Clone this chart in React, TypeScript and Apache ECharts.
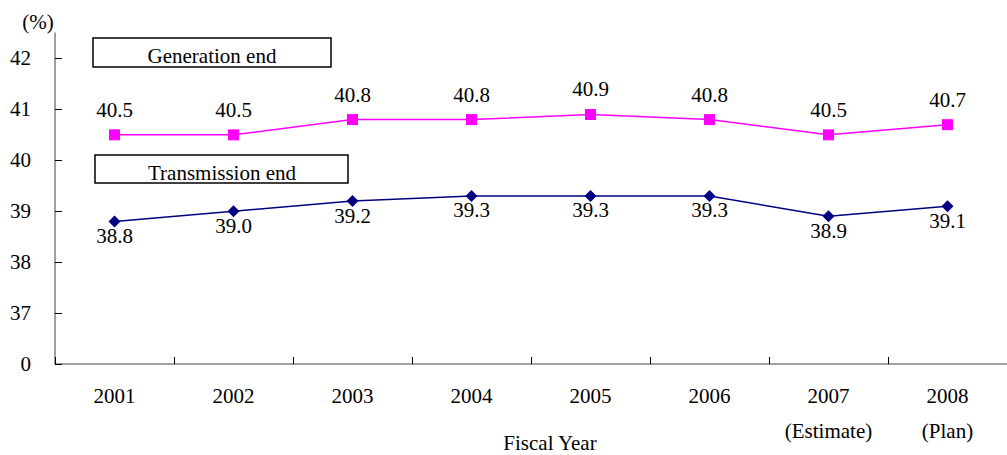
import React, { useEffect, useRef } from "react";
import * as echarts from "echarts";

const categories = ["2001", "2002", "2003", "2004", "2005", "2006", "2007\n(Estimate)", "2008\n(Plan)"];
const generationEnd = [40.5, 40.5, 40.8, 40.8, 40.9, 40.8, 40.5, 40.7];
const transmissionEnd = [38.8, 39.0, 39.2, 39.3, 39.3, 39.3, 38.9, 39.1];
const yTickValues = [36, 37, 38, 39, 40, 41, 42];

const FONT = "Liberation Serif";

export default function App() {
  const ref = useRef<HTMLDivElement>(null);
  useEffect(() => {
    document.body.style.margin = "0";
    if (!ref.current) return;
    const chart = echarts.init(ref.current, undefined, { renderer: "svg" });
    const textStyle = (text: string, x: number, y: number) => ({
      type: "text",
      x,
      y,
      style: {
        text,
        fill: "#000",
        fontSize: 21,
        fontFamily: FONT,
        align: "center",
        verticalAlign: "middle",
        textAlign: "center",
        textVerticalAlign: "middle",
      },
    });
    chart.setOption({
      animation: false,
      backgroundColor: "#fff",
      textStyle: { fontFamily: FONT },
      grid: { left: 55, top: 33, width: 962, height: 331, containLabel: false },
      xAxis: {
        type: "category",
        data: categories,
        boundaryGap: true,
        axisLine: { show: true, lineStyle: { color: "#808080", width: 1.5 } },
        axisTick: { show: true, inside: true, length: 7, alignWithLabel: false, lineStyle: { color: "#000", width: 1 } },
        axisLabel: { color: "#000", fontSize: 21, fontFamily: FONT, lineHeight: 35, margin: 14, interval: 0 },
        splitLine: { show: false },
      },
      yAxis: {
        type: "value",
        min: 36,
        max: 42.5,
        interval: 1,
        axisLine: { show: true, lineStyle: { color: "#808080", width: 1.5 } },
        axisTick: { show: true, inside: true, length: 7, customValues: yTickValues, lineStyle: { color: "#000", width: 1 } },
        axisLabel: {
          color: "#000",
          fontSize: 21,
          fontFamily: FONT,
          margin: 24,
          customValues: yTickValues,
          formatter: (v: number) => (v === 36 ? "0" : Number.isInteger(v) ? String(v) : ""),
        },
        splitLine: { show: false },
      },
      graphic: [
        textStyle("(%)", 38, 22),
        textStyle("Fiscal Year", 550, 443),
        {
          type: "rect",
          shape: { x: 93, y: 38, width: 238, height: 29 },
          style: { fill: "#fff", stroke: "#000", lineWidth: 1.5 },
        },
        textStyle("Generation end", 212, 56),
        {
          type: "rect",
          shape: { x: 95, y: 155, width: 253, height: 28 },
          style: { fill: "#fff", stroke: "#000", lineWidth: 1.5 },
        },
        textStyle("Transmission end", 222, 173),
      ],
      series: [
        {
          name: "Generation end",
          type: "line",
          data: generationEnd,
          symbol: "rect",
          symbolSize: 11,
          lineStyle: { color: "#FF00FF", width: 1.5 },
          itemStyle: { color: "#FF00FF" },
          label: {
            show: true,
            position: "top",
            distance: 9,
            color: "#000",
            fontSize: 21,
            fontFamily: FONT,
            formatter: (p: any) => Number(p.value).toFixed(1),
          },
        },
        {
          name: "Transmission end",
          type: "line",
          data: transmissionEnd,
          symbol: "diamond",
          symbolSize: 12,
          lineStyle: { color: "#000080", width: 1.5 },
          itemStyle: { color: "#000080" },
          label: {
            show: true,
            position: "bottom",
            distance: -2,
            color: "#000",
            fontSize: 21,
            fontFamily: FONT,
            formatter: (p: any) => Number(p.value).toFixed(1),
          },
        },
      ],
    });
    return () => chart.dispose();
  }, []);
  return <div ref={ref} style={{ width: 1007, height: 455 }} />;
}
